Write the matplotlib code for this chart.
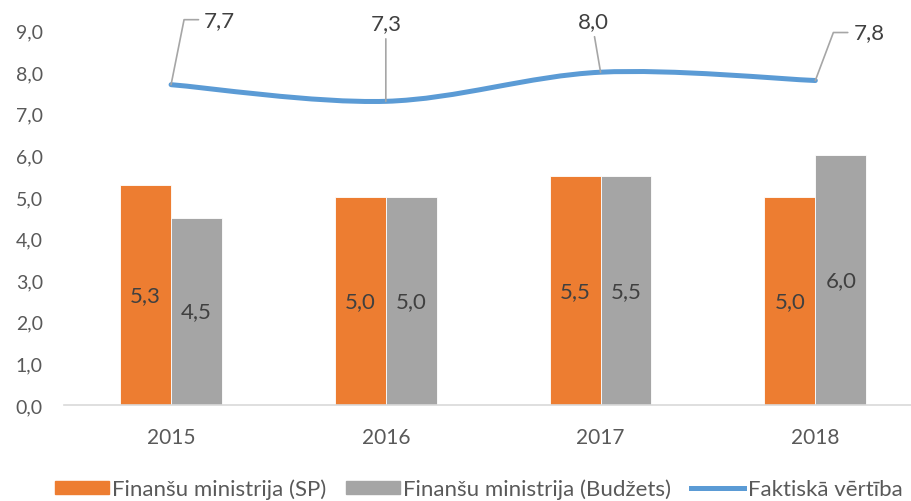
import matplotlib
matplotlib.use('Agg')
import matplotlib.pyplot as plt
from matplotlib.path import Path
from matplotlib.patches import PathPatch, Patch
from matplotlib.lines import Line2D
import numpy as np

plt.rcParams['font.family'] = ['Lato', 'DejaVu Sans']

years = ['2015', '2016', '2017', '2018']
fm_sp = [5.3, 5.0, 5.5, 5.0]
fm_budzets = [4.5, 5.0, 5.5, 6.0]
faktiska = [7.7, 7.3, 8.0, 7.8]
series_names = ['Finanšu ministrija (SP)', 'Finanšu ministrija (Budžets)', 'Faktiskā vērtība']
yticks = [0, 1, 2, 3, 4, 5, 6, 7, 8, 9]

ORANGE = '#ED7D31'
GRAY = '#A5A5A5'
BLUE = '#5B9BD5'
TXT = '#404040'
TICK = '#595959'

def fmt(v):
    return ('%.1f' % v).replace('.', ',')

fig = plt.figure(figsize=(9.12, 5.02), dpi=100)
ax = fig.add_axes([63.7/912, 96/502, 859/912, 374.4/502])

x = np.arange(len(years))
w = 0.237
b1 = ax.bar(x - w/2, fm_sp, w, color=ORANGE, edgecolor='white', linewidth=0.6)
b2 = ax.bar(x + w/2, fm_budzets, w, color=GRAY, edgecolor='white', linewidth=0.6)
for bars, vals in ((b1, fm_sp), (b2, fm_budzets)):
    for r, v in zip(bars, vals):
        ax.text(r.get_x() + r.get_width()/2, v/2, fmt(v), ha='center', va='center',
                fontsize=16, color=TXT)

# smoothed line (Catmull-Rom style bezier, like Excel's smoothed line)
pts = np.column_stack([x, faktiska]).astype(float)
verts = [tuple(pts[0])]
codes = [Path.MOVETO]
n = len(pts)
for i in range(n - 1):
    p0 = pts[i - 1] if i > 0 else pts[i]
    p1 = pts[i]
    p2 = pts[i + 1]
    p3 = pts[i + 2] if i + 2 < n else pts[i + 1]
    c1 = p1 + (p2 - p0) / 6.0
    c2 = p2 - (p3 - p1) / 6.0
    verts += [tuple(c1), tuple(c2), tuple(p2)]
    codes += [Path.CURVE4] * 3
ax.add_patch(PathPatch(Path(verts, codes), facecolor='none', edgecolor=BLUE,
                       linewidth=3.6, capstyle='round', zorder=5))

# line data labels with leader lines
lead = dict(arrowstyle='-', color='#A6A6A6', lw=1.2, shrinkA=2, shrinkB=0)
label_opts = [
    dict(off=(33, 65), relpos=(0, 0.5), conn='angle,angleA=0,angleB=78.7,rad=0', ha='left'),
    dict(off=(0, 78), relpos=(0.5, 0), conn='arc3', ha='center'),
    dict(off=(-7, 51), relpos=(0.5, 0), conn='arc3', ha='center'),
    dict(off=(38, 48), relpos=(0, 0.5), conn='angle,angleA=0,angleB=69.4,rad=0', ha='left'),
]
for xi, v, o in zip(x, faktiska, label_opts):
    ap = dict(lead)
    ap['relpos'] = o['relpos']
    ap['connectionstyle'] = o['conn']
    ax.annotate(fmt(v), xy=(xi, v), xytext=o['off'], textcoords='offset pixels',
                ha=o['ha'], va='center', fontsize=16, color=TXT, arrowprops=ap, zorder=6)

ax.set_xlim(-0.5, len(years) - 0.5)
ax.set_ylim(0, 9)
ax.set_xticks(x)
ax.set_xticklabels(years)
ax.set_yticks(yticks)
ax.set_yticklabels([fmt(t) for t in yticks])
ax.tick_params(axis='both', length=0, colors=TICK)
ax.tick_params(axis='y', pad=15, labelsize=14)
ax.tick_params(axis='x', pad=16, labelsize=15)
for s in ('top', 'right', 'left'):
    ax.spines[s].set_visible(False)
ax.spines['bottom'].set_color('#D9D9D9')
ax.spines['bottom'].set_linewidth(1.2)

handles = [Patch(color=ORANGE), Patch(color=GRAY), Line2D([], [], color=BLUE, lw=3.6)]
leg = fig.legend(handles, series_names, loc='center', bbox_to_anchor=(0.525, 0.024), ncol=3,
                 frameon=False, fontsize=16, handlelength=2.4, handleheight=0.55,
                 handletextpad=0.15, columnspacing=0.9, borderaxespad=0, borderpad=0)
for t in leg.get_texts():
    t.set_color(TICK)

fig.savefig('out.png', dpi=100)
